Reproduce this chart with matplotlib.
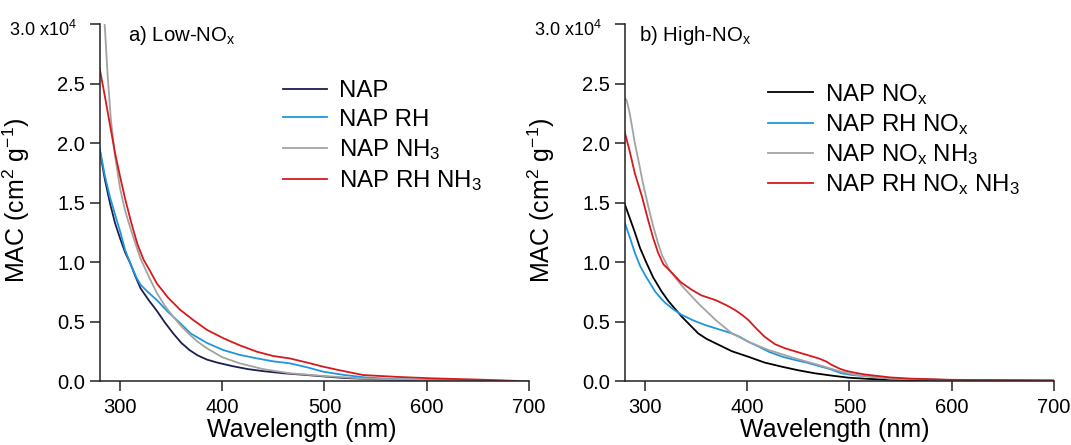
import matplotlib
matplotlib.use("Agg")
import matplotlib.pyplot as plt

plt.rcParams['font.family'] = ['Liberation Sans', 'DejaVu Sans']
plt.rcParams['mathtext.fontset'] = 'custom'
plt.rcParams['mathtext.rm'] = 'Liberation Sans'
plt.rcParams['mathtext.it'] = 'Liberation Sans:italic'
plt.rcParams['mathtext.bf'] = 'Liberation Sans:bold'

# ---- data (MAC in units of 1e4 cm2 g-1) ----
# a) Low-NOx
nap_wl = [280, 285, 290, 295, 300, 305, 310, 315, 320, 328, 336, 344, 352, 360, 368, 376, 385, 395,
          410, 425, 440, 460, 483, 500, 520, 560, 600, 650, 700]
nap_mac = [1.95, 1.70, 1.50, 1.33, 1.20, 1.08, 0.99, 0.88, 0.78, 0.68, 0.59, 0.49, 0.40, 0.32, 0.26,
           0.215, 0.18, 0.155, 0.125, 0.10, 0.083, 0.065, 0.05, 0.038, 0.025, 0.012, 0.006, 0.002, 0.0]

rh_wl = [280, 285, 290, 296.7, 300, 305, 310, 316, 320, 327, 336, 347, 359, 369, 385, 401, 417, 434,
         450, 466, 483, 499, 520, 540, 570, 600, 645]
rh_mac = [1.96, 1.73, 1.55, 1.353, 1.26, 1.10, 0.99, 0.87, 0.81, 0.75, 0.68, 0.58, 0.485, 0.40, 0.32,
          0.26, 0.22, 0.19, 0.165, 0.149, 0.115, 0.078, 0.05, 0.03, 0.015, 0.01, 0.003]

nh3_wl = [284, 285.3, 288, 291, 295, 300, 305, 311, 316, 320, 328, 336, 344, 352, 360, 368.5, 376,
          385, 400, 417, 440, 466, 499, 540, 600, 700]
nh3_mac = [3.1, 2.95, 2.55, 2.20, 1.90, 1.62, 1.43, 1.26, 1.13, 1.03, 0.88, 0.74, 0.63, 0.54, 0.46,
           0.387, 0.33, 0.275, 0.20, 0.149, 0.10, 0.065, 0.042, 0.02, 0.008, 0.0]

rhnh3_wl = [280, 285, 290, 295, 300, 305, 311, 317, 323, 329, 336, 347, 359, 372, 385, 401, 417, 434,
            450, 466, 483, 499, 515, 538, 570, 603, 650, 690]
rhnh3_mac = [2.63, 2.40, 2.16, 1.92, 1.72, 1.53, 1.33, 1.15, 1.02, 0.93, 0.82, 0.70, 0.597, 0.51, 0.43,
             0.36, 0.30, 0.246, 0.21, 0.19, 0.155, 0.12, 0.09, 0.05, 0.035, 0.023, 0.012, 0.0]

# b) High-NOx
nox_wl = [280, 285, 290, 295, 301.5, 308, 316, 323, 329, 336, 344, 352, 360, 369, 385, 401, 417, 434,
          450, 466, 483, 499, 520, 540, 600, 700]
nox_mac = [1.49, 1.37, 1.25, 1.12, 0.99, 0.87, 0.755, 0.67, 0.61, 0.54, 0.47, 0.40, 0.355, 0.317, 0.25,
           0.204, 0.155, 0.12, 0.09, 0.065, 0.045, 0.028, 0.017, 0.01, 0.004, 0.0]

rhnox_wl = [280, 285, 290.2, 295, 300, 305, 310, 316, 320, 328, 336, 347, 359, 372, 385, 393, 401, 411,
            421, 434, 447, 458, 470, 481, 492, 503, 515, 540, 600, 700]
rhnox_mac = [1.333, 1.21, 1.073, 0.97, 0.89, 0.82, 0.75, 0.69, 0.655, 0.60, 0.555, 0.51, 0.47, 0.435,
             0.40, 0.37, 0.33, 0.29, 0.246, 0.205, 0.176, 0.155, 0.126, 0.10, 0.065, 0.05, 0.042, 0.02,
             0.008, 0.004]

noxnh3_wl = [280, 282, 285, 290, 293.4, 298, 303.2, 308, 313, 317, 320, 324, 336, 352, 369, 385, 401,
             421, 447, 470, 492, 510, 540, 600, 700]
noxnh3_mac = [2.38, 2.36, 2.25, 2.00, 1.86, 1.66, 1.465, 1.30, 1.15, 1.05, 1.00, 0.93, 0.80, 0.653,
              0.513, 0.40, 0.33, 0.26, 0.19, 0.134, 0.078, 0.045, 0.02, 0.008, 0.003]

rhnoxnh3_wl = [280, 285, 290, 297, 303, 308, 313, 318, 324, 335, 346, 355, 369, 380, 388, 395, 401, 409,
               417, 427, 437, 453, 470, 477, 483, 490, 496, 505, 515, 540, 560, 600, 700]
rhnoxnh3_mac = [2.095, 1.93, 1.745, 1.55, 1.353, 1.20, 1.073, 0.98, 0.93, 0.83, 0.765, 0.72, 0.68, 0.635,
                0.597, 0.555, 0.513, 0.44, 0.372, 0.31, 0.275, 0.233, 0.19, 0.165, 0.134, 0.105, 0.087,
                0.07, 0.055, 0.03, 0.02, 0.01, 0.005]

navy = '#1c1e4f'
blue = '#1f96dc'
gray = '#a3a3a3'
red = '#d7191c'

yticks = [0.0, 0.5, 1.0, 1.5, 2.0, 2.5, 3.0]
ytick_labels = ['0.0', '0.5', '1.0', '1.5', '2.0', '2.5', '']
xticks = [300, 400, 500, 600, 700]

fig = plt.figure(figsize=(10.71, 4.45), dpi=100)
ax1 = fig.add_axes([0.093, 0.1438, 0.4008, 0.8022])
ax2 = fig.add_axes([0.5832, 0.1438, 0.4008, 0.8022])

lw = 1.3
ax1.plot(nap_wl, nap_mac, color=navy, lw=lw, label='NAP')
ax1.plot(rh_wl, rh_mac, color=blue, lw=lw, label='NAP RH')
ax1.plot(nh3_wl, nh3_mac, color=gray, lw=lw, label='NAP NH$_{3}$')
ax1.plot(rhnh3_wl, rhnh3_mac, color=red, lw=lw, label='NAP RH NH$_{3}$')

ax2.plot(nox_wl, nox_mac, color='black', lw=lw, label=r'NAP NO$_{\mathrm{x}}$')
ax2.plot(rhnox_wl, rhnox_mac, color=blue, lw=lw, label=r'NAP RH NO$_{\mathrm{x}}$')
ax2.plot(noxnh3_wl, noxnh3_mac, color=gray, lw=lw, label=r'NAP NO$_{\mathrm{x}}$ NH$_{3}$')
ax2.plot(rhnoxnh3_wl, rhnoxnh3_mac, color=red, lw=lw, label=r'NAP RH NO$_{\mathrm{x}}$ NH$_{3}$')

for ax, xlab in ((ax1, 0.472), (ax2, 0.49)):
    ax.set_xlim(280, 700)
    ax.set_ylim(0, 3.0)
    ax.set_xticks(xticks)
    ax.set_yticks(yticks)
    ax.set_yticklabels(ytick_labels)
    ax.spines['top'].set_visible(False)
    ax.spines['right'].set_visible(False)
    for s in ('left', 'bottom'):
        ax.spines[s].set_linewidth(1.1)
        ax.spines[s].set_color('#222222')
    ax.tick_params(direction='out', length=7.5, width=1.1, labelsize=14.5, color='#222222')
    ax.tick_params(axis='y', pad=3)
    ax.tick_params(axis='x', pad=5)
    ax.set_xlabel('Wavelength (nm)', fontsize=18)
    ax.xaxis.set_label_coords(xlab, -0.105)
    ax.set_ylabel('MAC (cm$^{2}$ g$^{-1}$)', fontsize=18)
    ax.yaxis.set_label_coords(-0.158, 0.507)
    ax.text(-0.212, 0.966, '3.0 x10$^{4}$', transform=ax.transAxes, fontsize=13,
            ha='left', va='baseline')

ax1.text(0.066, 0.969, r'a) Low-NO$_{\mathrm{x}}$', transform=ax1.transAxes, fontsize=14.7, va='center')
ax2.text(0.034, 0.969, r'b) High-NO$_{\mathrm{x}}$', transform=ax2.transAxes, fontsize=14.7, va='center')

ax1.legend(loc='upper left', bbox_to_anchor=(0.427, 0.842), frameon=False, fontsize=17.3,
           handlelength=1.85, handletextpad=0.5, labelspacing=0.26, borderaxespad=0, borderpad=0)
ax2.legend(loc='upper left', bbox_to_anchor=(0.335, 0.838), frameon=False, fontsize=17.3,
           handlelength=1.85, handletextpad=0.5, labelspacing=0.22, borderaxespad=0, borderpad=0)

fig.savefig('out.png', dpi=100)
